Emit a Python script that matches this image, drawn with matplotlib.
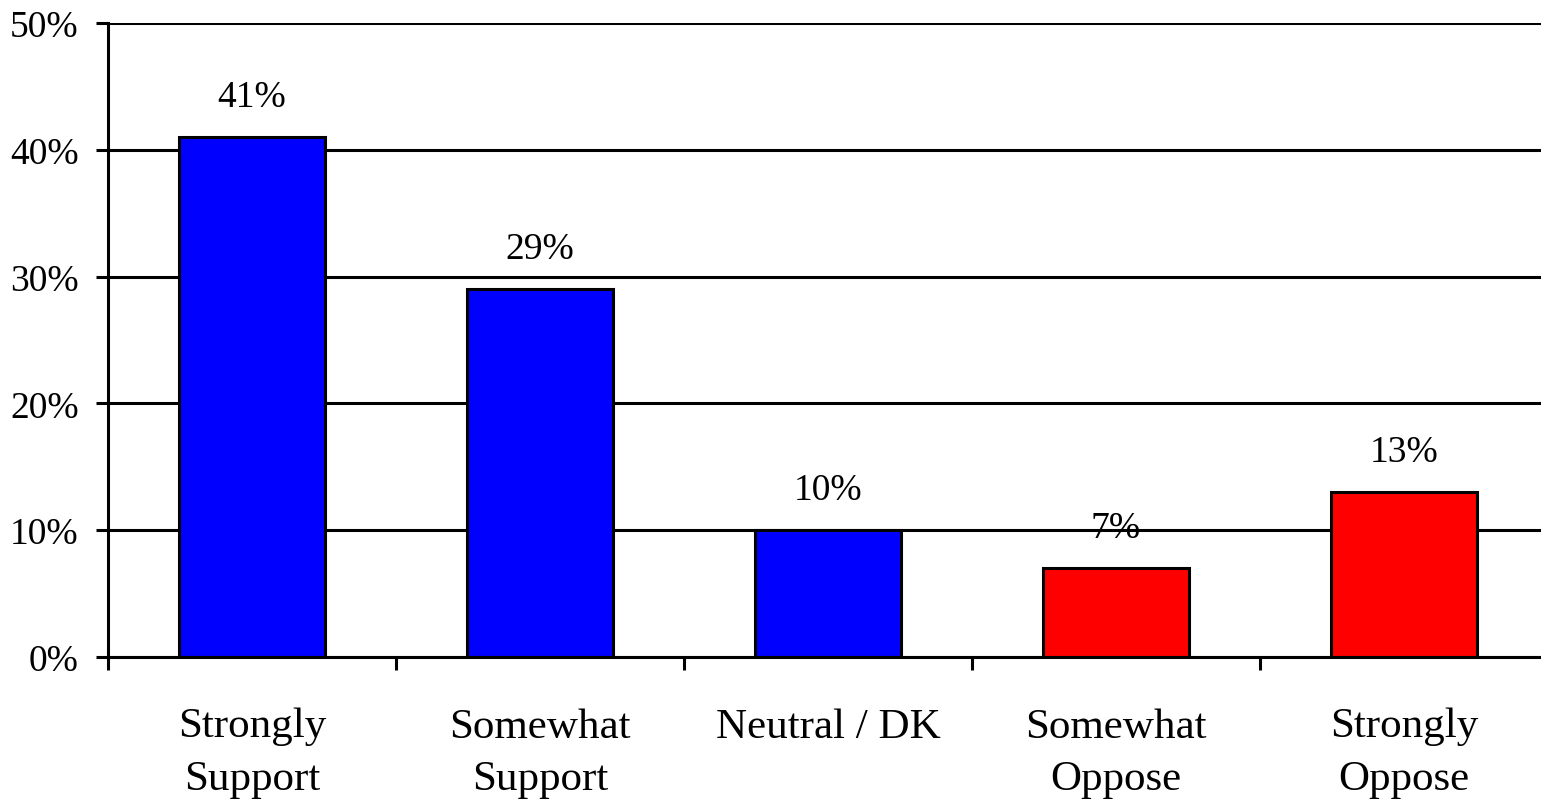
import matplotlib.pyplot as plt
from matplotlib.ticker import FixedLocator, PercentFormatter

categories = ["Strongly\nSupport", "Somewhat\nSupport", "Neutral / DK", "Somewhat\nOppose", "Strongly\nOppose"]
values = [41, 29, 10, 7, 13]
colors = ["#0000ff", "#0000ff", "#0000ff", "#ff0000", "#ff0000"]

plt.rcParams["font.family"] = ["Liberation Serif", "DejaVu Serif"]

fig = plt.figure(figsize=(15.41, 8.03), dpi=100)
ax = fig.add_axes([108 / 1541, 1 - 658 / 803, 1440 / 1541, 634 / 803])

x = list(range(len(values)))
bars = ax.bar(x, values, width=0.507, color=colors, edgecolor="black", linewidth=2.2, zorder=3)

for rect, v in zip(bars, values):
    ax.annotate(f"{v}%", (rect.get_x() + rect.get_width() / 2, v), xytext=(0, 17),
                textcoords="offset points", ha="center", va="bottom", fontsize=27, zorder=4)

ax.set_xlim(-0.5, len(values) - 0.5)
ax.set_ylim(0, 50)
ax.set_yticks(range(0, 51, 10))
ax.yaxis.set_major_formatter(PercentFormatter(decimals=0))
ax.yaxis.grid(True, color="black", linewidth=2.2, zorder=1)

ax.xaxis.set_major_locator(FixedLocator([i - 0.5 for i in range(len(values) + 1)]))
ax.xaxis.set_major_formatter(plt.NullFormatter())
ax.xaxis.set_minor_locator(FixedLocator(x))
ax.set_xticklabels(categories, minor=True, fontsize=31, linespacing=1.47)
ax.tick_params(axis="x", which="major", length=9, width=2.2, direction="out")
ax.tick_params(axis="x", which="minor", length=0, pad=36)
ax.tick_params(axis="y", length=9, width=2.2, labelsize=27, pad=12)

for side in ["top", "right"]:
    ax.spines[side].set_visible(False)
for side in ["left", "bottom"]:
    ax.spines[side].set_linewidth(2.2)
    ax.spines[side].set_zorder(5)

fig.savefig("out.png", dpi=100)
